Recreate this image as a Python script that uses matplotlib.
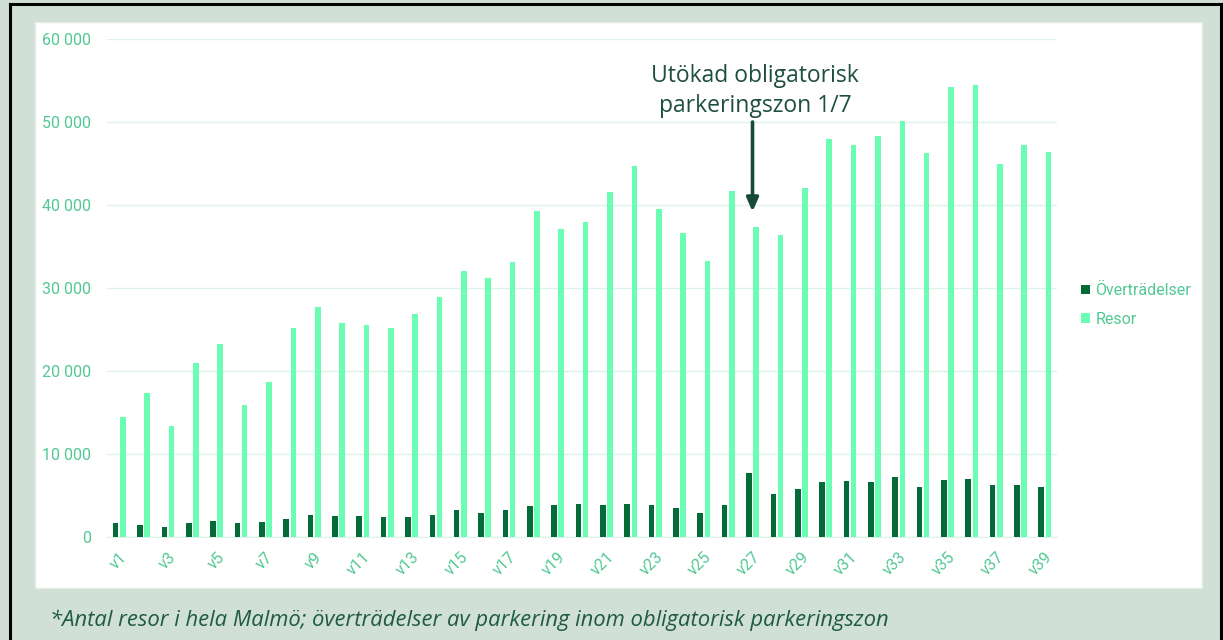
import matplotlib
matplotlib.use("Agg")
import matplotlib.pyplot as plt
import numpy as np
from matplotlib.patches import Rectangle
from matplotlib.ticker import FuncFormatter

weeks = [f"v{i}" for i in range(1, 40)]

overtradelser = [1650, 1400, 1160, 1650, 1930, 1650, 1770, 2130, 2610, 2490,
                 2490, 2370, 2400, 2700, 3200, 2900, 3200, 3700, 3800, 4000,
                 3900, 4000, 3800, 3500, 2900, 3900, 7660, 5200, 5750, 6590,
                 6710, 6590, 7190, 5990, 6900, 7020, 6230, 6230, 5990]

resor = [14400, 17400, 13400, 21000, 23200, 15900, 18700, 25200, 27700, 25800,
         25500, 25200, 26900, 28900, 32000, 31200, 33100, 39300, 37100, 37900,
         41600, 44700, 39500, 36600, 33200, 41700, 37300, 36400, 42100, 47900,
         47200, 48300, 50100, 46300, 54200, 54400, 45000, 47200, 46400]

note = "*Antal resor i hela Malmö; överträdelser av parkering inom obligatorisk parkeringszon"
annot = "Utökad obligatorisk\nparkeringszon 1/7"

W, H = 1223, 640
bg = "#d0e0d6"
dark = "#046a38"
light = "#6bfdb4"
tick_col = "#52c895"
text_dark = "#1d4e3e"

fig = plt.figure(figsize=(W / 100, H / 100), dpi=100)
fig.patch.set_facecolor(bg)

# white panel + black frame lines
fig.patches.append(Rectangle((35 / W, 1 - 588 / H), (1202 - 35) / W, (588 - 22) / H,
                             transform=fig.transFigure, facecolor="white",
                             edgecolor="#e4ece7", lw=1, zorder=-10))
fig.add_artist(plt.Line2D([10 / W, 10 / W], [0, 1 - 4 / H], transform=fig.transFigure,
                          color="black", lw=2.2))
fig.add_artist(plt.Line2D([1221 / W, 1221 / W], [0, 1 - 4 / H], transform=fig.transFigure,
                          color="black", lw=2.2))
fig.add_artist(plt.Line2D([10 / W, 1221 / W], [1 - 4 / H, 1 - 4 / H], transform=fig.transFigure,
                          color="black", lw=2.2))

ax = fig.add_axes([107 / W, 1 - 537 / H, 950 / W, 498 / H], zorder=2)
ax.set_facecolor("none")

x = np.arange(len(weeks))
bw = 0.23
ax.bar(x - 0.145, overtradelser, width=bw, color=dark, label="Överträdelser", zorder=3)
ax.bar(x + 0.15, resor, width=bw, color=light, label="Resor", zorder=3)

ax.set_xlim(-0.5, len(weeks) - 0.5)
ax.set_ylim(0, 60000)
ax.set_yticks(np.arange(0, 60001, 10000))
ax.yaxis.set_major_formatter(FuncFormatter(lambda v, p: f"{int(v):,}".replace(",", " ")))
ax.grid(axis="y", color="#dcf3ea", lw=1, zorder=0)
for s in ["top", "right", "left"]:
    ax.spines[s].set_visible(False)
ax.spines["bottom"].set_color("#dcf3ea")

ax.set_xticks(x[::2])
ax.set_xticklabels(weeks[::2], rotation=45, ha="right", rotation_mode="anchor")
ax.tick_params(axis="x", length=0, pad=9, labelsize=11.5, labelcolor=tick_col)
ax.tick_params(axis="y", length=0, pad=11.5, labelsize=11.5, labelcolor=tick_col)
for lab in ax.get_xticklabels() + ax.get_yticklabels():
    lab.set_fontfamily("Roboto")

leg = ax.legend(loc="center left", bbox_to_anchor=(1.01, 0.466), frameon=False,
                handlelength=0.55, handleheight=0.55, handletextpad=0.35,
                labelspacing=0.85, prop={"family": "Roboto", "size": 11.5})
for t in leg.get_texts():
    t.set_color(tick_col)

# annotation with arrow at v27
ax.annotate("", xy=(26, 39200), xytext=(26, 50000),
            arrowprops=dict(arrowstyle="-|>,head_length=0.8,head_width=0.35",
                            color="#174a37", lw=2.6, shrinkA=0, shrinkB=0), zorder=5)
fig.text(755 / W, 1 - 91 / H, annot, ha="center", va="center", fontsize=16.5,
         family="Open Sans", color=text_dark, linespacing=1.3)

fig.text(50 / W, 1 - 620 / H, note, ha="left", va="center", fontsize=15.8,
         family="Open Sans", style="italic", color="#1f5a44")

fig.savefig("out.png", dpi=100, facecolor=bg)
